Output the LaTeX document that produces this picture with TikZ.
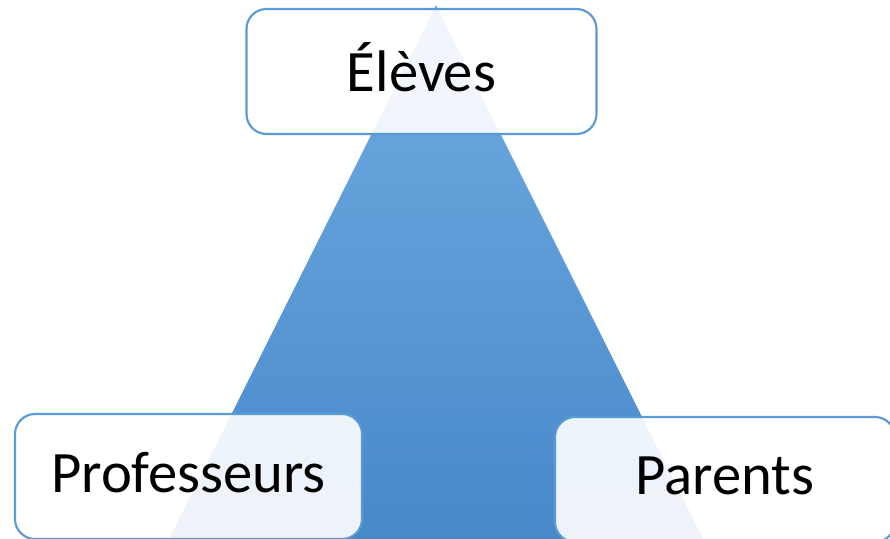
\documentclass[tikz,border=0pt]{standalone}
\usepackage{fontspec}
\setmainfont{Carlito}
\usepackage{xcolor}

\definecolor{boxline}{RGB}{91,155,213}
\definecolor{tritop}{RGB}{112,172,226}
\definecolor{tribot}{RGB}{66,132,198}

\tikzset{
  rolebox/.style={draw=boxline, line width=1.6pt, fill=white, fill opacity=0.9, text opacity=1,
    rounded corners=15pt, font=\fontsize{44}{50}\selectfont, inner sep=0pt, text depth=6pt}
}

\begin{document}
\begin{tikzpicture}[x=0.75pt,y=0.75pt,yscale=-1,xscale=1]
\useasboundingbox (0,0) rectangle (890,539);
\clip (0,0) rectangle (890,539);

%Shape: Triangle
\shade [top color=tritop, bottom color=tribot] (436,5) -- (736,605) -- (136,605) -- cycle ;

% Text Node
\node [rolebox, minimum width=262.5pt, minimum height=93.75pt] (eleves) at (421.5,71.5) {Élèves};
% Text Node
\node [rolebox, minimum width=260.25pt, minimum height=93.75pt] (profs) at (188.5,476.5) {Professeurs};
% Text Node
\node [rolebox, minimum width=255pt, minimum height=93.75pt] (parents) at (725,479.5) {Parents};
\end{tikzpicture}
\end{document}
